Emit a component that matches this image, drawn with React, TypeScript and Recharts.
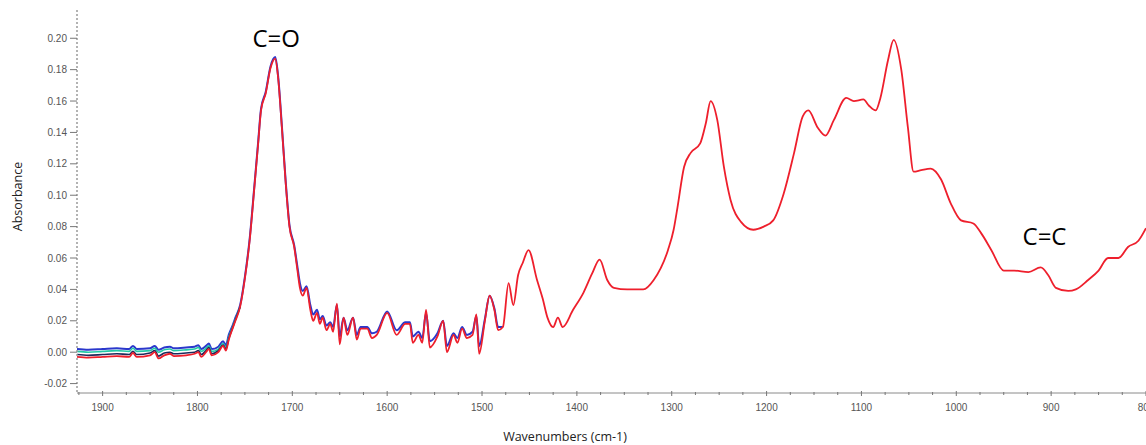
import { LineChart, Line, XAxis, YAxis, ReferenceDot, Label } from 'recharts';

// wavenumbers (cm-1), high to low as on the spectrometer axis
const WAVENUMBERS = [
  1927, 1915, 1900, 1885, 1872, 1868, 1864, 1850, 1845, 1841,
  1835, 1829, 1825, 1812, 1803, 1799, 1796, 1791, 1788, 1785,
  1778, 1773, 1770, 1767, 1763, 1760, 1755, 1750, 1745, 1740,
  1736, 1733, 1728, 1723, 1718, 1715, 1711, 1707, 1703, 1698,
  1695, 1692, 1689, 1685, 1681, 1678, 1674, 1671, 1668, 1664,
  1660, 1657, 1653, 1650, 1646, 1642, 1636, 1632, 1628, 1621,
  1616, 1611, 1600, 1590, 1581, 1576, 1573, 1567, 1563, 1559,
  1555, 1547, 1541, 1537, 1530, 1526, 1521, 1516, 1510, 1506,
  1503, 1497, 1492, 1487, 1483, 1478, 1472, 1467, 1462, 1457,
  1451, 1442, 1436, 1431, 1425, 1420, 1415, 1404, 1393, 1384,
  1376, 1368, 1361, 1347, 1336, 1330, 1319, 1304, 1298, 1294,
  1287, 1280, 1270, 1264, 1259, 1252, 1245, 1238, 1227, 1214,
  1203, 1193, 1182, 1171, 1162, 1156, 1146, 1138, 1129, 1116,
  1108, 1098, 1092, 1085, 1080, 1072, 1066, 1058, 1051, 1045,
  1037, 1027, 1016, 1006, 995, 982, 974, 963, 950, 939,
  924, 911, 903, 895, 882, 874, 861, 850, 840, 829,
  819, 808, 800,
];

const RED = [
  -0.003, -0.0035, -0.003, -0.0025, -0.003, -0.0005, -0.003, -0.002, 0.0, -0.004,
  -0.002, -0.001, -0.0025, -0.002, -0.001, 0.0, -0.003, 0.0, 0.002, -0.002,
  0.0, 0.004, 0.001, 0.008, 0.015, 0.02, 0.029, 0.047, 0.071, 0.105,
  0.133, 0.154, 0.165, 0.181, 0.187, 0.175, 0.143, 0.108, 0.08, 0.067,
  0.054, 0.041, 0.036, 0.041, 0.027, 0.02, 0.025, 0.018, 0.022, 0.014,
  0.018, 0.013, 0.031, 0.005, 0.022, 0.011, 0.022, 0.008, 0.015, 0.015,
  0.009, 0.011, 0.025, 0.011, 0.018, 0.018, 0.006, 0.011, 0.006, 0.027,
  0.003, 0.01, 0.02, 0.0, 0.011, 0.006, 0.015, 0.009, 0.011, 0.024,
  -0.001, 0.02, 0.036, 0.027, 0.014, 0.016, 0.044, 0.03, 0.049, 0.057,
  0.065, 0.046, 0.034, 0.022, 0.016, 0.022, 0.016, 0.027, 0.038, 0.05,
  0.059, 0.046, 0.041, 0.04, 0.04, 0.04, 0.046, 0.065, 0.078, 0.092,
  0.118, 0.127, 0.133, 0.146, 0.16, 0.148, 0.118, 0.097, 0.083, 0.078,
  0.08, 0.084, 0.101, 0.127, 0.15, 0.154, 0.143, 0.138, 0.148, 0.162,
  0.16, 0.161, 0.157, 0.154, 0.162, 0.186, 0.199, 0.18, 0.143, 0.115,
  0.116, 0.117, 0.11, 0.095, 0.084, 0.082, 0.076, 0.065, 0.052, 0.052,
  0.051, 0.054, 0.049, 0.041, 0.039, 0.04, 0.046, 0.052, 0.06, 0.06,
  0.067, 0.071, 0.079,
];

// the other spectra only separate visibly from 1927 down to ~1480
const BLUE = [
  0.002, 0.0015, 0.002, 0.0025, 0.002, 0.004, 0.002, 0.0025, 0.004, 0.0015,
  0.003, 0.0035, 0.0025, 0.003, 0.0035, 0.0045, 0.002, 0.004, 0.0055, 0.002,
  0.0035, 0.007, 0.0045, 0.011, 0.017, 0.022, 0.03, 0.048, 0.072, 0.106,
  0.134, 0.155, 0.166, 0.182, 0.188, 0.176, 0.144, 0.109, 0.081, 0.068,
  0.056, 0.044, 0.039, 0.042, 0.03, 0.024, 0.027, 0.021, 0.023, 0.017,
  0.019, 0.016, 0.03, 0.01, 0.022, 0.014, 0.022, 0.011, 0.016, 0.016,
  0.012, 0.013, 0.026, 0.014, 0.019, 0.019, 0.01, 0.013, 0.009, 0.025,
  0.007, 0.012, 0.02, 0.004, 0.012, 0.009, 0.016, 0.011, 0.013, 0.023,
  0.004, 0.021, 0.036, 0.028, 0.016, 0.016,
];

const GREEN = [
  0.0005, 0.0, 0.0005, 0.001, 0.0005, 0.0025, 0.0005, 0.001, 0.0025, 0.0,
  0.0015, 0.002, 0.001, 0.0015, 0.002, 0.003, 0.0005, 0.0025, 0.004, 0.0005,
  0.002, 0.0055, 0.003, 0.0095, 0.016, 0.021, 0.029,
];

const DARK = [
  -0.0015, -0.002, -0.0015, -0.001, -0.0015, 0.0005, -0.0015, -0.0005, 0.001, -0.0025,
  -0.0005, 0.0, -0.001, -0.0005, 0.0, 0.001, -0.0015, 0.001, 0.003, -0.001,
  0.001, 0.0045, 0.002, 0.0085, 0.0155, 0.0205, 0.029,
];

const X_TICKS = [
  1925, 1900, 1875, 1850, 1825, 1800, 1775, 1750, 1725, 1700, 1675, 1650,
  1625, 1600, 1575, 1550, 1525, 1500, 1475, 1450, 1425, 1400, 1375, 1350,
  1325, 1300, 1275, 1250, 1225, 1200, 1175, 1150, 1125, 1100, 1075, 1050,
  1025, 1000, 975, 950, 925, 900, 875, 850, 825, 800,
];
const Y_TICKS = [-0.02, 0, 0.02, 0.04, 0.06, 0.08, 0.1, 0.12, 0.14, 0.16, 0.18, 0.2];

const data = WAVENUMBERS.map((wn, i) => ({
  wn,
  red: RED[i],
  blue: i < BLUE.length ? BLUE[i] : null,
  green: i < GREEN.length ? GREEN[i] : null,
  dark: i < DARK.length ? DARK[i] : null,
}));

const tickFont = { fontFamily: '"Liberation Sans", Arial, sans-serif', fontSize: 10, fill: '#555' };
const titleFont = { fontFamily: '"Open Sans", sans-serif', fontSize: 12.5, fill: '#222' };

function XTick({ x, y, payload }: any) {
  const major = payload.value % 100 === 0;
  return (
    <g>
      <line x1={x} x2={x} y1={y - (major ? 2 : 1)} y2={y + (major ? 3 : 2)} stroke="#777" />
      {major && (
        <text x={x} y={y + 18} textAnchor="middle" {...tickFont}>
          {payload.value}
        </text>
      )}
    </g>
  );
}

function YTick({ x, y, payload }: any) {
  return (
    <g>
      <line x1={x - 7} x2={x} y1={y} y2={y} stroke="#777" />
      <text x={x - 10} y={y + 3.5} textAnchor="end" {...tickFont}>
        {payload.value.toFixed(2)}
      </text>
    </g>
  );
}

const annotate = (text: string) => (props: any) => {
  const vb = props.viewBox;
  return (
    <text
      x={vb.x + vb.width / 2}
      y={vb.y + vb.height / 2 + 8.5}
      textAnchor="middle"
      fontFamily='"Open Sans", sans-serif'
      fontSize={24}
      fill="#000"
    >
      {text}
    </text>
  );
};

export default function App() {
  return (
    <div style={{ position: 'absolute', left: 0, top: 0, width: 1146, height: 445, overflow: 'hidden', background: '#fff' }}>
      <LineChart width={1180} height={445} data={data} margin={{ top: 10, right: 34, bottom: 0, left: 0 }}>
        <XAxis
          dataKey="wn"
          type="number"
          domain={[800, 1927]}
          reversed
          allowDataOverflow
          ticks={X_TICKS}
          interval={0}
          tickSize={0}
          tickMargin={0}
          tickLine={false}
          tick={<XTick />}
          axisLine={{ stroke: '#8a8a8a' }}
          height={52}
        >
          <Label
            content={(props: any) => (
              <text x={props.viewBox.x + 488} y={props.viewBox.y + 48} textAnchor="middle" {...titleFont}>
                Wavenumbers (cm-1)
              </text>
            )}
          />
        </XAxis>
        <YAxis
          type="number"
          domain={[-0.026, 0.218]}
          allowDataOverflow
          ticks={Y_TICKS}
          interval={0}
          tickSize={0}
          tickMargin={0}
          tickLine={false}
          tick={<YTick />}
          axisLine={{ stroke: '#9a9a9a', strokeDasharray: '2 2', strokeWidth: 1.5 }}
          width={77}
        >
          <Label
            content={(props: any) => {
              const cy = props.viewBox.y + props.viewBox.height / 2 - 5;
              return (
                <text x={22} y={cy} textAnchor="middle" transform={`rotate(-90 22 ${cy})`} {...titleFont}>
                  Absorbance
                </text>
              );
            }}
          />
        </YAxis>
        <Line dataKey="blue" type="monotone" stroke="#2b38cc" strokeWidth={2} dot={false} isAnimationActive={false} />
        <Line dataKey="green" type="monotone" stroke="#22c8a6" strokeWidth={1.6} dot={false} isAnimationActive={false} />
        <Line dataKey="dark" type="monotone" stroke="#1e2a5c" strokeWidth={1.6} dot={false} isAnimationActive={false} />
        <Line dataKey="red" type="monotone" stroke="#ee1f2c" strokeWidth={1.8} dot={false} isAnimationActive={false} />
        <ReferenceDot x={1717} y={0.1997} r={0} fill="none" stroke="none" label={annotate('C=O')} />
        <ReferenceDot x={907} y={0.0739} r={0} fill="none" stroke="none" label={annotate('C=C')} />
      </LineChart>
    </div>
  );
}
